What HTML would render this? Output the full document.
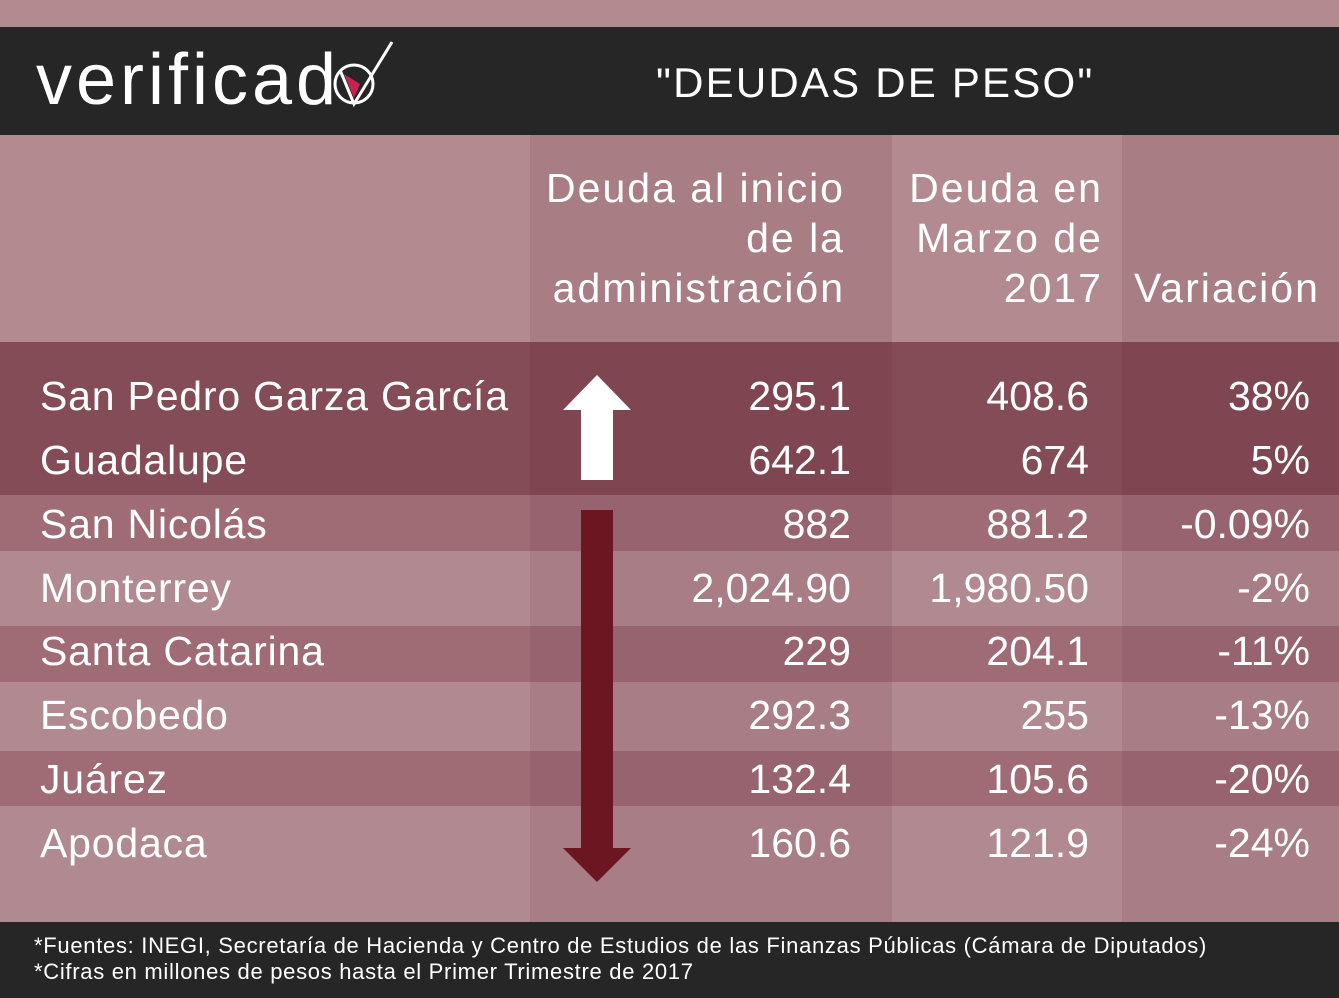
<!DOCTYPE html>
<html><head><meta charset="utf-8"><style>
*{margin:0;padding:0;box-sizing:border-box}
body{width:1339px;height:998px;position:relative;overflow:hidden;background:#b38a8f;font-family:"Liberation Sans",sans-serif;color:#fff}
.a{position:absolute}
.t{position:absolute;font-size:41px;line-height:50px;white-space:nowrap}
.r{text-align:right}
.n{letter-spacing:0.8px}
.h{letter-spacing:2px}
</style></head><body>
<div class="a" style="left:0;top:27px;width:1339px;height:108px;background:#262626"></div>
<div class="a" style="left:0;top:135px;width:1339px;height:207px;background:#b38a8f"></div>
<div class="a" style="left:0;top:342px;width:1339px;height:153px;background:#844c56"></div>
<div class="a" style="left:0;top:495px;width:1339px;height:56px;background:#9f6c76"></div>
<div class="a" style="left:0;top:551px;width:1339px;height:75px;background:#b18990"></div>
<div class="a" style="left:0;top:626px;width:1339px;height:56px;background:#9f6c76"></div>
<div class="a" style="left:0;top:682px;width:1339px;height:69px;background:#b18990"></div>
<div class="a" style="left:0;top:751px;width:1339px;height:55px;background:#9f6c76"></div>
<div class="a" style="left:0;top:806px;width:1339px;height:116px;background:#b18990"></div>
<div class="a" style="left:530px;top:135px;width:362px;height:787px;background:rgba(90,20,35,0.1)"></div>
<div class="a" style="left:1122px;top:135px;width:217px;height:787px;background:rgba(90,20,35,0.1)"></div>
<div class="a" style="left:0;top:922px;width:1339px;height:76px;background:#262626"></div>

<div class="t" style="left:36px;top:40px;font-size:72px;line-height:80px;letter-spacing:4px">verificad</div>
<svg class="a" style="left:332px;top:38px" width="66" height="70"><circle cx="22" cy="46" r="19" fill="none" stroke="#fff" stroke-width="3"/><path d="M8 32 L22 66 L60 4" fill="none" stroke="#fff" stroke-width="3"/><path d="M12 36 L22 60 L28 46 Z" fill="#c8234f"/></svg>
<div class="t" style="left:656px;top:58px;font-size:42px;letter-spacing:2.2px">"DEUDAS DE PESO"</div>

<div class="t r h" style="left:500px;width:345px;top:163px">Deuda al inicio<br>de la<br>administración</div>
<div class="t r h" style="left:880px;width:223px;top:163px">Deuda en<br>Marzo de<br>2017</div>
<div class="t h" style="left:1134px;top:263px">Variación</div>

<svg class="a" style="left:560px;top:372px" width="75" height="515">
<path d="M3 38 L37 3 L71 38 L53 38 L53 108 L21 108 L21 38 Z" fill="#fff"/>
<path d="M21 138 L53 138 L53 476 L71 476 L37 510 L3 476 L21 476 Z" fill="#6b1620"/>
</svg>

<div class="t n" style="left:40px;top:371px">San Pedro Garza García</div>
<div class="t n" style="left:40px;top:435px">Guadalupe</div>
<div class="t n" style="left:40px;top:499px">San Nicolás</div>
<div class="t n" style="left:40px;top:563px">Monterrey</div>
<div class="t n" style="left:40px;top:626px">Santa Catarina</div>
<div class="t n" style="left:40px;top:690px">Escobedo</div>
<div class="t n" style="left:40px;top:754px">Juárez</div>
<div class="t n" style="left:40px;top:818px">Apodaca</div>

<div class="t r" style="left:600px;width:251px;top:371px">295.1</div>
<div class="t r" style="left:600px;width:251px;top:435px">642.1</div>
<div class="t r" style="left:600px;width:251px;top:499px">882</div>
<div class="t r" style="left:600px;width:251px;top:563px">2,024.90</div>
<div class="t r" style="left:600px;width:251px;top:626px">229</div>
<div class="t r" style="left:600px;width:251px;top:690px">292.3</div>
<div class="t r" style="left:600px;width:251px;top:754px">132.4</div>
<div class="t r" style="left:600px;width:251px;top:818px">160.6</div>

<div class="t r" style="left:880px;width:209px;top:371px">408.6</div>
<div class="t r" style="left:880px;width:209px;top:435px">674</div>
<div class="t r" style="left:880px;width:209px;top:499px">881.2</div>
<div class="t r" style="left:880px;width:209px;top:563px">1,980.50</div>
<div class="t r" style="left:880px;width:209px;top:626px">204.1</div>
<div class="t r" style="left:880px;width:209px;top:690px">255</div>
<div class="t r" style="left:880px;width:209px;top:754px">105.6</div>
<div class="t r" style="left:880px;width:209px;top:818px">121.9</div>

<div class="t r" style="left:1120px;width:190px;top:371px">38%</div>
<div class="t r" style="left:1120px;width:190px;top:435px">5%</div>
<div class="t r" style="left:1120px;width:190px;top:499px">-0.09%</div>
<div class="t r" style="left:1120px;width:190px;top:563px">-2%</div>
<div class="t r" style="left:1120px;width:190px;top:626px">-11%</div>
<div class="t r" style="left:1120px;width:190px;top:690px">-13%</div>
<div class="t r" style="left:1120px;width:190px;top:754px">-20%</div>
<div class="t r" style="left:1120px;width:190px;top:818px">-24%</div>

<div class="t" style="left:34px;top:933px;font-size:22px;line-height:26px;letter-spacing:0.7px">*Fuentes: INEGI, Secretaría de Hacienda y Centro de Estudios de las Finanzas Públicas (Cámara de Diputados)<br>*Cifras en millones de pesos hasta el Primer Trimestre de 2017</div>
</body></html>
